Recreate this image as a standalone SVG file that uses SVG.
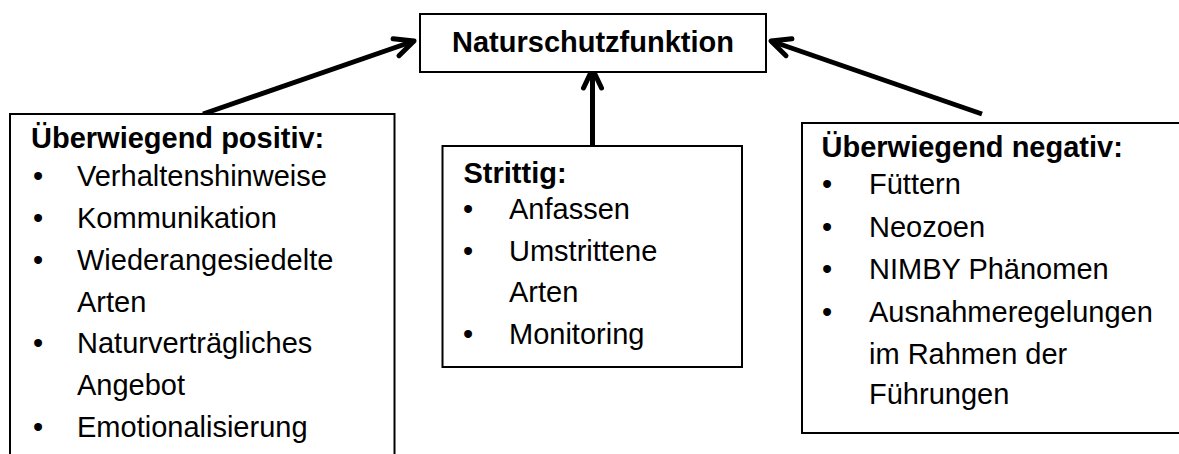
<svg xmlns="http://www.w3.org/2000/svg" width="1179" height="454" viewBox="0 0 1179 454">
  <style>
    .box { fill: #ffffff; stroke: #000000; stroke-width: 2; }
    .t { font-family: "Liberation Sans", Arial, sans-serif; font-size: 29px; fill: #000000; }
    .b { font-weight: bold; }
    .conn { stroke: #000000; stroke-width: 5; fill: none; }
  </style>
  <defs>
    <marker id="arr" markerUnits="userSpaceOnUse" viewBox="-26 -15 30 30" refX="0" refY="0" markerWidth="30" markerHeight="30" orient="auto">
      <path d="M -19 -9 L 0 0 L -19 9" fill="none" stroke="#000000" stroke-width="5" stroke-linecap="round" stroke-linejoin="round"/>
    </marker>
  </defs>
  <rect width="1179" height="454" fill="#ffffff"/>

  <g id="connectors">
    <line class="conn" x1="203" y1="114" x2="414" y2="41" marker-end="url(#arr)"/>
    <line class="conn" x1="592.5" y1="146" x2="592.5" y2="69" marker-end="url(#arr)"/>
    <line class="conn" x1="982" y1="114" x2="771" y2="41" marker-end="url(#arr)"/>
  </g>

  <g id="naturschutzfunktion">
    <rect class="box" x="420" y="14" width="346" height="58"/>
    <text class="t b" x="593" y="52" text-anchor="middle">Naturschutzfunktion</text>
  </g>

  <g id="positiv">
    <rect class="box" x="10" y="114" width="384.5" height="400"/>
    <text class="t b" x="31" y="148">Überwiegend positiv:</text>
    <g class="t">
      <text x="33" y="186">•</text><text x="77" y="186">Verhaltenshinweise</text>
      <text x="33" y="228">•</text><text x="77" y="228">Kommunikation</text>
      <text x="33" y="270">•</text><text x="77" y="270">Wiederangesiedelte</text>
      <text x="77" y="311.5">Arten</text>
      <text x="33" y="353">•</text><text x="77" y="353">Naturverträgliches</text>
      <text x="77" y="395">Angebot</text>
      <text x="33" y="437">•</text><text x="77" y="437">Emotionalisierung</text>
    </g>
  </g>

  <g id="strittig">
    <rect class="box" x="442.5" y="146" width="299.5" height="221"/>
    <text class="t b" x="463.5" y="182.5">Strittig:</text>
    <g class="t">
      <text x="463" y="218.5">•</text><text x="509" y="218.5">Anfassen</text>
      <text x="463" y="260.5">•</text><text x="509" y="260.5">Umstrittene</text>
      <text x="509" y="302">Arten</text>
      <text x="463" y="343.5">•</text><text x="509" y="343.5">Monitoring</text>
    </g>
  </g>

  <g id="negativ">
    <rect class="box" x="802" y="123" width="400" height="310"/>
    <text class="t b" x="821.5" y="156.5">Überwiegend negativ:</text>
    <g class="t">
      <text x="822" y="194">•</text><text x="869" y="194">Füttern</text>
      <text x="822" y="237">•</text><text x="869" y="237">Neozoen</text>
      <text x="822" y="279">•</text><text x="869" y="279">NIMBY Phänomen</text>
      <text x="822" y="322">•</text><text x="869" y="322">Ausnahmeregelungen</text>
      <text x="869" y="364">im Rahmen der</text>
      <text x="869" y="404">Führungen</text>
    </g>
  </g>
</svg>
